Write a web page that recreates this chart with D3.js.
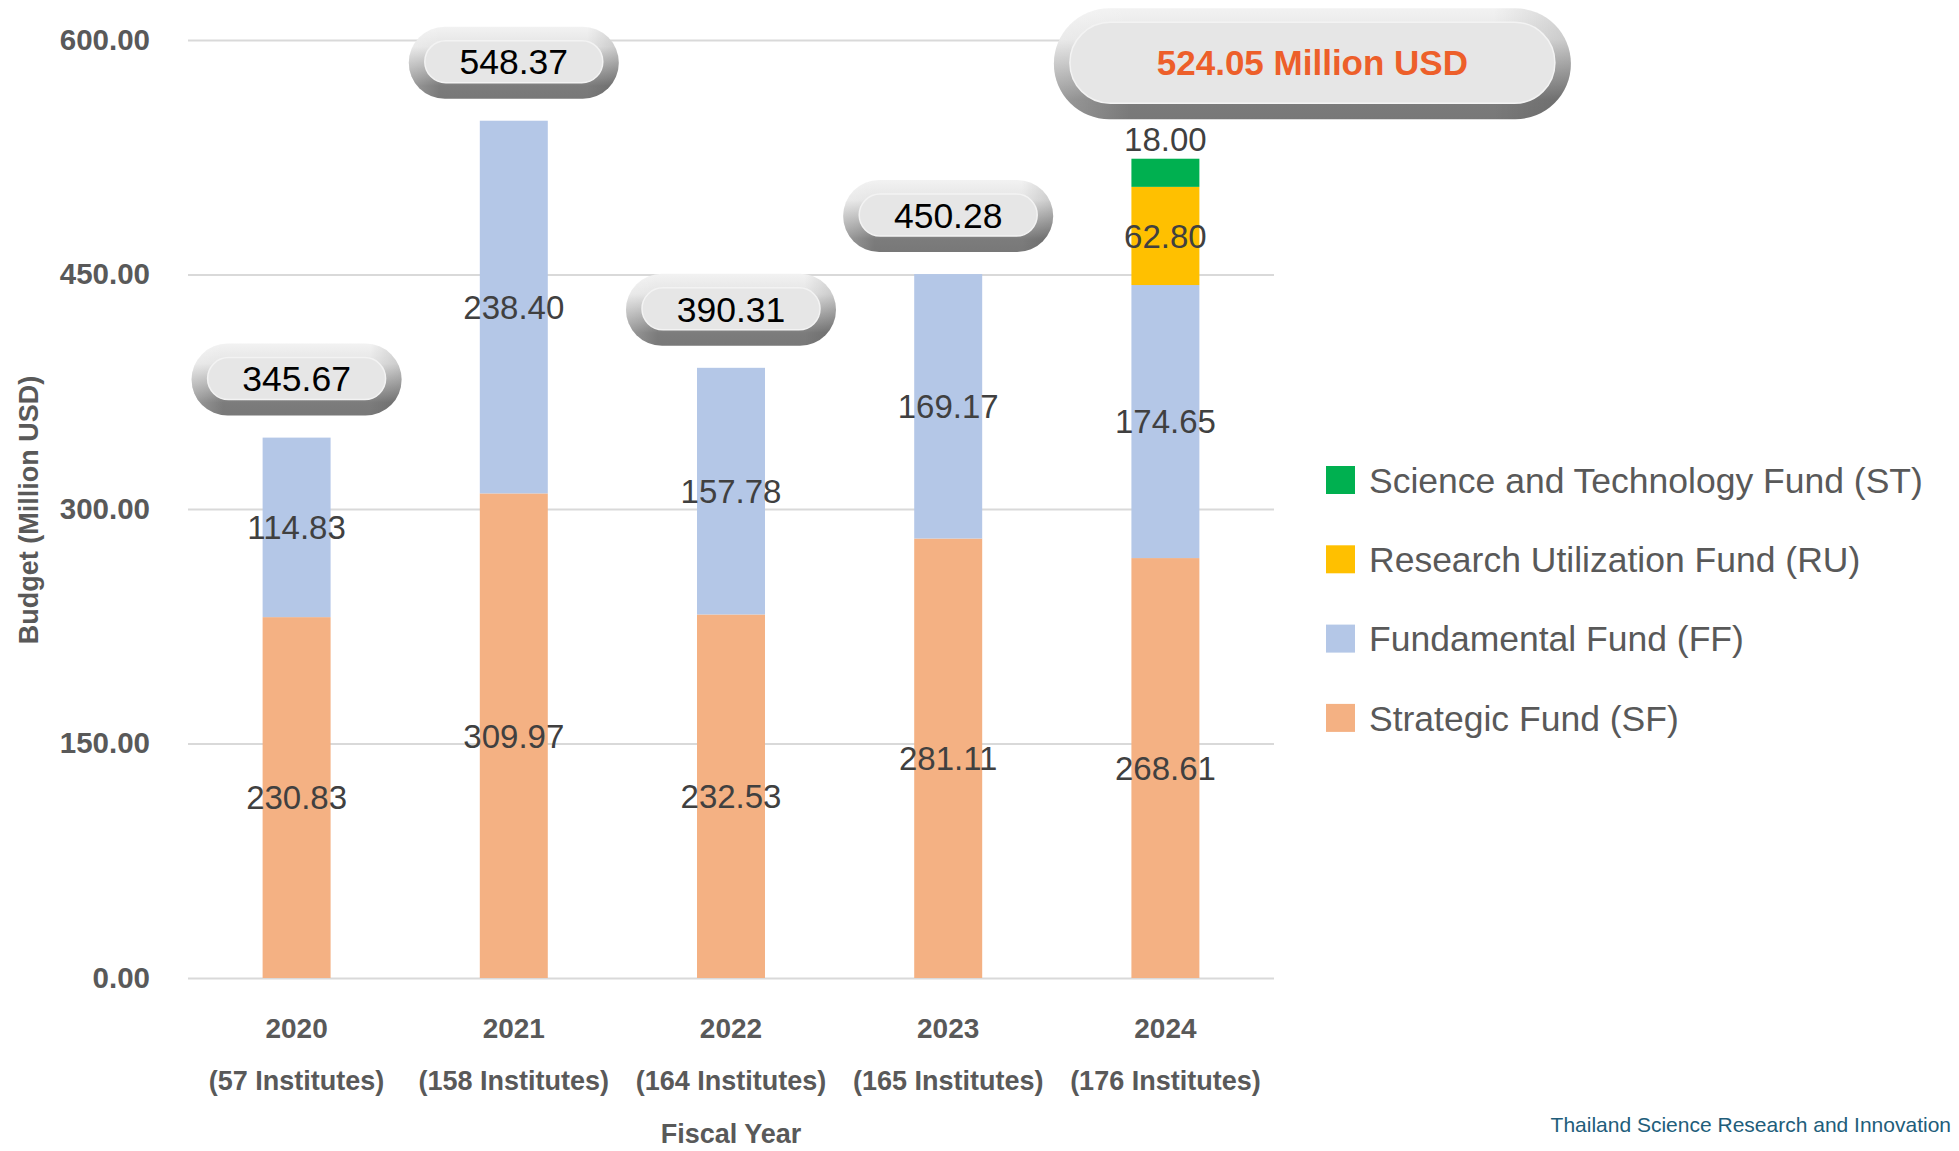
<!DOCTYPE html>
<html>
<head>
<meta charset="utf-8">
<script src="https://cdn.jsdelivr.net/npm/d3@7"></script>
<style>
  body { margin: 0; background: #fff; }
  text { font-family: "Liberation Sans", Arial, sans-serif; }
</style>
</head>
<body>
<script>
// fiscal years and number of funded institutes
const years = ["2020", "2021", "2022", "2023", "2024"];
const institutes = [57, 158, 164, 165, 176];

// budget per fund, million USD
const strategic = [230.83, 309.97, 232.53, 281.11, 268.61];
const fundamental = [114.83, 238.40, 157.78, 169.17, 174.65];
const utilization = [0, 0, 0, 0, 62.80];
const sciTech = [0, 0, 0, 0, 18.00];
const totals = [345.67, 548.37, 390.31, 450.28, 524.05];

const yTicks = [0, 150, 300, 450, 600];

const funds = [
    {key: "sf", name: "Strategic Fund (SF)", color: "#F4B183"},
    {key: "ff", name: "Fundamental Fund (FF)", color: "#B4C7E7"},
    {key: "ru", name: "Research Utilization Fund (RU)", color: "#FFC000"},
    {key: "st", name: "Science and Technology Fund (ST)", color: "#00B050"}
];

const data = years.map((y, i) => ({
    year: y,
    sf: strategic[i],
    ff: fundamental[i],
    ru: utilization[i],
    st: sciTech[i],
    total: totals[i],
    inst: institutes[i]
}));

const width = 1959;
const height = 1151;
const plot = {left: 188, right: 1274, top: 40, bottom: 978};

const svg = d3.select("body")
    .append("svg")
    .attr("width", width)
    .attr("height", height);

const defs = svg.append("defs");
const grad = defs.append("linearGradient")
    .attr("id", "pillOuter")
    .attr("x1", 0).attr("y1", 0).attr("x2", 0).attr("y2", 1);
grad.append("stop").attr("offset", "0%").attr("stop-color", "#f2f2f2");
grad.append("stop").attr("offset", "28%").attr("stop-color", "#e4e4e4");
grad.append("stop").attr("offset", "62%").attr("stop-color", "#a2a2a2");
grad.append("stop").attr("offset", "82%").attr("stop-color", "#7c7c7c");
grad.append("stop").attr("offset", "100%").attr("stop-color", "#787878");

const side = defs.append("linearGradient")
    .attr("id", "pillSide")
    .attr("x1", 0).attr("y1", 0).attr("x2", 1).attr("y2", 0);
side.append("stop").attr("offset", "0%").attr("stop-color", "#ffffff").attr("stop-opacity", 0.25);
side.append("stop").attr("offset", "15%").attr("stop-color", "#ffffff").attr("stop-opacity", 0);
side.append("stop").attr("offset", "85%").attr("stop-color", "#000000").attr("stop-opacity", 0);
side.append("stop").attr("offset", "100%").attr("stop-color", "#000000").attr("stop-opacity", 0.12);

const x = d3.scaleBand()
    .domain(years)
    .range([plot.left, plot.right])
    .paddingInner(0.687)
    .paddingOuter(0.3435);

const y = d3.scaleLinear()
    .domain([0, 600])
    .range([plot.bottom, plot.top]);

// gridlines
svg.append("g")
    .attr("transform", `translate(${plot.left}, 0)`)
    .call(d3.axisLeft(y).tickValues(yTicks).tickSize(-(plot.right - plot.left)).tickFormat(""))
    .call(g => g.select(".domain").remove())
    .call(g => g.selectAll("line").attr("stroke", "#d9d9d9").attr("stroke-width", 2));

// y labels
svg.append("g")
    .attr("transform", `translate(${plot.left}, 0)`)
    .call(d3.axisLeft(y).tickValues(yTicks).tickSize(0).tickPadding(38).tickFormat(d3.format(".2f")))
    .call(g => g.select(".domain").remove())
    .call(g => g.selectAll("text")
        .attr("fill", "#595959")
        .attr("font-size", 29.5)
        .attr("font-weight", "bold")
        .style("font-family", "Liberation Sans, Arial, sans-serif"));

// stacked bars
const stack = d3.stack().keys(funds.map(f => f.key));
const series = stack(data);

series.forEach((s, si) => {
    const f = funds[si];
    svg.append("g")
        .selectAll("rect")
        .data(s.filter(d => d[1] - d[0] > 0))
        .enter()
        .append("rect")
        .attr("x", d => x(d.data.year))
        .attr("y", d => y(d[1]))
        .attr("width", x.bandwidth())
        .attr("height", d => y(d[0]) - y(d[1]))
        .attr("fill", f.color);
});

// segment value labels
series.forEach((s, si) => {
    const f = funds[si];
    svg.append("g")
        .selectAll("text")
        .data(s.filter(d => d[1] - d[0] > 0))
        .enter()
        .append("text")
        .attr("x", d => x(d.data.year) + x.bandwidth() / 2)
        .attr("y", d => f.key === "st" ? y(d[1]) - 8 : y((d[0] + d[1]) / 2))
        .attr("dy", f.key === "st" ? 0 : "0.36em")
        .attr("text-anchor", "middle")
        .attr("font-size", 33)
        .attr("fill", "#404040")
        .text(d => (d[1] - d[0]).toFixed(2));
});

function pill(g, cx, cy, w, h, label, color, size, weight) {
    g.append("rect")
        .attr("x", cx - w / 2).attr("y", cy - h / 2)
        .attr("width", w).attr("height", h)
        .attr("rx", h / 2)
        .attr("fill", "url(#pillOuter)");
    g.append("rect")
        .attr("x", cx - w / 2).attr("y", cy - h / 2)
        .attr("width", w).attr("height", h)
        .attr("rx", h / 2)
        .attr("fill", "url(#pillSide)");
    const ih = h - 30;
    g.append("rect")
        .attr("x", cx - w / 2 + 16).attr("y", cy - h / 2 + 14)
        .attr("width", w - 32).attr("height", ih)
        .attr("rx", ih / 2)
        .attr("fill", "#e6e6e6")
        .attr("stroke", "#f3f3f3")
        .attr("stroke-width", 1.5);
    g.append("text")
        .attr("x", cx).attr("y", cy - 1)
        .attr("dy", "0.36em")
        .attr("text-anchor", "middle")
        .attr("font-size", size)
        .attr("font-weight", weight)
        .attr("fill", color)
        .text(label);
}

// total pills
const pills = svg.append("g");
data.forEach((d, i) => {
    const cx = x(d.year) + x.bandwidth() / 2;
    if (i < data.length - 1) {
        pill(pills, cx, y(d.total) - 58, 210, 72, d.total.toFixed(2), "#000", 35.5, "normal");
    } else {
        pill(pills, cx + 147, y(d.total) - 95, 517, 111, d.total.toFixed(2) + " Million USD", "#ED5F2A", 35, "bold");
    }
});

// x labels
const xl = svg.append("g");
data.forEach(d => {
    const cx = x(d.year) + x.bandwidth() / 2;
    xl.append("text")
        .attr("x", cx).attr("y", 1038)
        .attr("text-anchor", "middle")
        .attr("font-size", 28)
        .attr("font-weight", "bold")
        .attr("fill", "#595959")
        .text(d.year);
    xl.append("text")
        .attr("x", cx).attr("y", 1090)
        .attr("text-anchor", "middle")
        .attr("font-size", 27)
        .attr("font-weight", "bold")
        .attr("fill", "#595959")
        .text("(" + d.inst + " Institutes)");
});

svg.append("text")
    .attr("x", (plot.left + plot.right) / 2)
    .attr("y", 1143)
    .attr("text-anchor", "middle")
    .attr("font-size", 27)
    .attr("font-weight", "bold")
    .attr("fill", "#595959")
    .text("Fiscal Year");

svg.append("text")
    .attr("transform", "rotate(-90)")
    .attr("x", -510)
    .attr("y", 38)
    .attr("text-anchor", "middle")
    .attr("font-size", 27)
    .attr("font-weight", "bold")
    .attr("fill", "#595959")
    .text("Budget (Million USD)");

// legend
const legend = svg.append("g");
funds.slice().reverse().forEach((f, i) => {
    const cy = 480 + i * 79.3;
    legend.append("rect")
        .attr("x", 1326).attr("y", cy - 14)
        .attr("width", 29).attr("height", 28)
        .attr("fill", f.color);
    legend.append("text")
        .attr("x", 1369).attr("y", cy)
        .attr("dy", "0.36em")
        .attr("font-size", 35.5)
        .attr("fill", "#595959")
        .text(f.name);
});

svg.append("text")
    .attr("x", 1951)
    .attr("y", 1132)
    .attr("text-anchor", "end")
    .attr("font-size", 21)
    .attr("fill", "#215D7A")
    .text("Thailand Science Research and Innovation");
</script>
</body>
</html>
